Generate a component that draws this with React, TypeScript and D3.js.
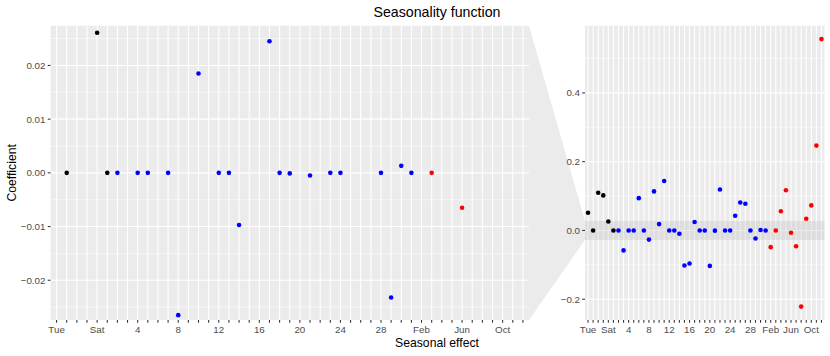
import React from 'react';
import { scalePoint, scaleLinear, extent, range } from 'd3';

// x categories (reference levels Mon, day 1 and Jan are dropped)
const weekdays = ['Tue', 'Wed', 'Thu', 'Fri', 'Sat', 'Sun'];
const monthDays = [
  '2', '3', '4', '5', '6', '7', '8', '9', '10', '11', '12', '13', '14', '15', '16',
  '17', '18', '19', '20', '21', '22', '23', '24', '25', '26', '27', '28', '29', '30', '31',
];
const months = ['Feb', 'Mar', 'Apr', 'May', 'Jun', 'Jul', 'Aug', 'Sep', 'Oct', 'Nov', 'Dec'];

// coefficients
const weekdayCoef = [0.0515, 0, 0.1097, 0.102, 0.0261, 0];
const monthDayCoef = [
  0, -0.058, 0, 0, 0.094, 0, -0.0265, 0.1136, 0.0185, 0.1437, 0, 0, -0.0097, -0.102, -0.096,
  0.0245, 0, -0.0001, -0.103, -0.0005, 0.119, 0, 0, 0.0427, 0.0815, 0.0777, 0, -0.0232, 0.0013, 0,
];
const monthCoef = [-0.0485, 0, 0.056, 0.117, -0.0065, -0.0457, -0.2214, 0.034, 0.0728, 0.2467, 0.5564];

const zoomLimits = [-0.0274, 0.0274];
const zoomTicks = [-0.02, -0.01, 0, 0.01, 0.02];
const fullTicks = [-0.2, 0, 0.2, 0.4];

const groups = [
  { names: weekdays, values: weekdayCoef, color: '#000000' },
  { names: monthDays, values: monthDayCoef, color: '#0000FF' },
  { names: months, values: monthCoef, color: '#FF0000' },
];

const points = groups.flatMap((g) =>
  g.names.map((name, i) => ({ name, value: g.values[i], color: g.color }))
);
const categories = points.map((d) => d.name);

const W = 830;
const H = 356;
const top = 25.7;
const bottom = 320;
const leftPanel = { x0: 50.5, x1: 529 };
const rightPanel = { x0: 585, x1: 824.5 };
const font = '"Liberation Sans", Arial, sans-serif';
const panelBg = '#EBEBEB';

function fmt(v: number, digits: number) {
  const s = v.toFixed(digits);
  return v < 0 ? '\u2212' + s.slice(1) : s;
}

function Panel({ x0, x1, yScale, ticks, minor, digits, id, showBand }: any) {
  const xScale = scalePoint<string>().domain(categories).range([x0, x1]).padding(0.6);
  return (
    <g>
      <defs>
        <clipPath id={id}>
          <rect x={x0} y={top} width={x1 - x0} height={bottom - top} />
        </clipPath>
      </defs>
      <rect x={x0} y={top} width={x1 - x0} height={bottom - top} fill={panelBg} />
      {minor.map((t: number) => (
        <line key={'mn' + t} x1={x0} x2={x1} y1={yScale(t)} y2={yScale(t)} stroke="#fff" strokeWidth={0.53} />
      ))}
      {ticks.map((t: number) => (
        <line key={'mj' + t} x1={x0} x2={x1} y1={yScale(t)} y2={yScale(t)} stroke="#fff" strokeWidth={1.07} />
      ))}
      {categories.map((c) => (
        <line key={'v' + c} x1={xScale(c)} x2={xScale(c)} y1={top} y2={bottom} stroke="#fff" strokeWidth={1.07} />
      ))}
      {showBand && (
        <rect
          x={x0}
          width={x1 - x0}
          y={yScale(zoomLimits[1])}
          height={yScale(zoomLimits[0]) - yScale(zoomLimits[1])}
          fill="#BEBEBE"
          opacity={0.3}
        />
      )}
      <g clipPath={`url(#${id})`}>
        {points.map((d) => (
          <circle key={'p' + d.name} cx={xScale(d.name)} cy={yScale(d.value)} r={2.3} fill={d.color} />
        ))}
      </g>
      {/* y axis */}
      {ticks.map((t: number) => (
        <g key={'yt' + t}>
          <line x1={x0 - 2.75} x2={x0} y1={yScale(t)} y2={yScale(t)} stroke="#333" strokeWidth={1.07} />
          <text x={x0 - 5} y={yScale(t) + 3.5} textAnchor="end" fontSize={9.8} fill="#4D4D4D" fontFamily={font}>
            {fmt(t, digits)}
          </text>
        </g>
      ))}
      {/* x axis */}
      {categories.map((c, i) => (
        <g key={'xt' + c}>
          <line x1={xScale(c)} x2={xScale(c)} y1={bottom} y2={bottom + 2.75} stroke="#333" strokeWidth={1.07} />
          {i % 4 === 0 && (
            <text x={xScale(c)} y={333} textAnchor="middle" fontSize={9.8} fill="#4D4D4D" fontFamily={font}>
              {c}
            </text>
          )}
        </g>
      ))}
    </g>
  );
}

export default function App() {
  const zoomY = scaleLinear().domain(zoomLimits).range([bottom, top]);
  const [lo, hi] = extent(points, (d) => d.value) as [number, number];
  const pad = (hi - lo) * 0.05;
  const fullY = scaleLinear().domain([lo - pad, hi + pad]).range([bottom, top]);

  const zoomMinor = range(-0.025, 0.026, 0.01);
  const fullMinor = [-0.1, 0.1, 0.3, 0.5];

  const trap = [
    [leftPanel.x1, top],
    [rightPanel.x0, fullY(zoomLimits[1])],
    [rightPanel.x0, fullY(zoomLimits[0])],
    [leftPanel.x1, bottom],
  ]
    .map((p) => p.join(','))
    .join(' ');

  return (
    <svg width={W} height={H} style={{ position: 'absolute', left: 0, top: 0, background: '#fff' }}>
      <polygon points={trap} fill="#BEBEBE" opacity={0.3} />
      <Panel
        id="clipL"
        x0={leftPanel.x0}
        x1={leftPanel.x1}
        yScale={zoomY}
        ticks={zoomTicks}
        minor={zoomMinor}
        digits={2}
      />
      <Panel
        id="clipR"
        x0={rightPanel.x0}
        x1={rightPanel.x1}
        yScale={fullY}
        ticks={fullTicks}
        minor={fullMinor}
        digits={1}
        showBand
      />
      <text x={437} y={17} textAnchor="middle" fontSize={14.2} fill="#000" fontFamily={font}>
        Seasonality function
      </text>
      <text x={437} y={347} textAnchor="middle" fontSize={12.2} fill="#000" fontFamily={font}>
        Seasonal effect
      </text>
      <text
        transform={`translate(15.5, ${(top + bottom) / 2}) rotate(-90)`}
        textAnchor="middle"
        fontSize={12.2}
        fill="#000"
        fontFamily={font}
      >
        Coefficient
      </text>
    </svg>
  );
}
